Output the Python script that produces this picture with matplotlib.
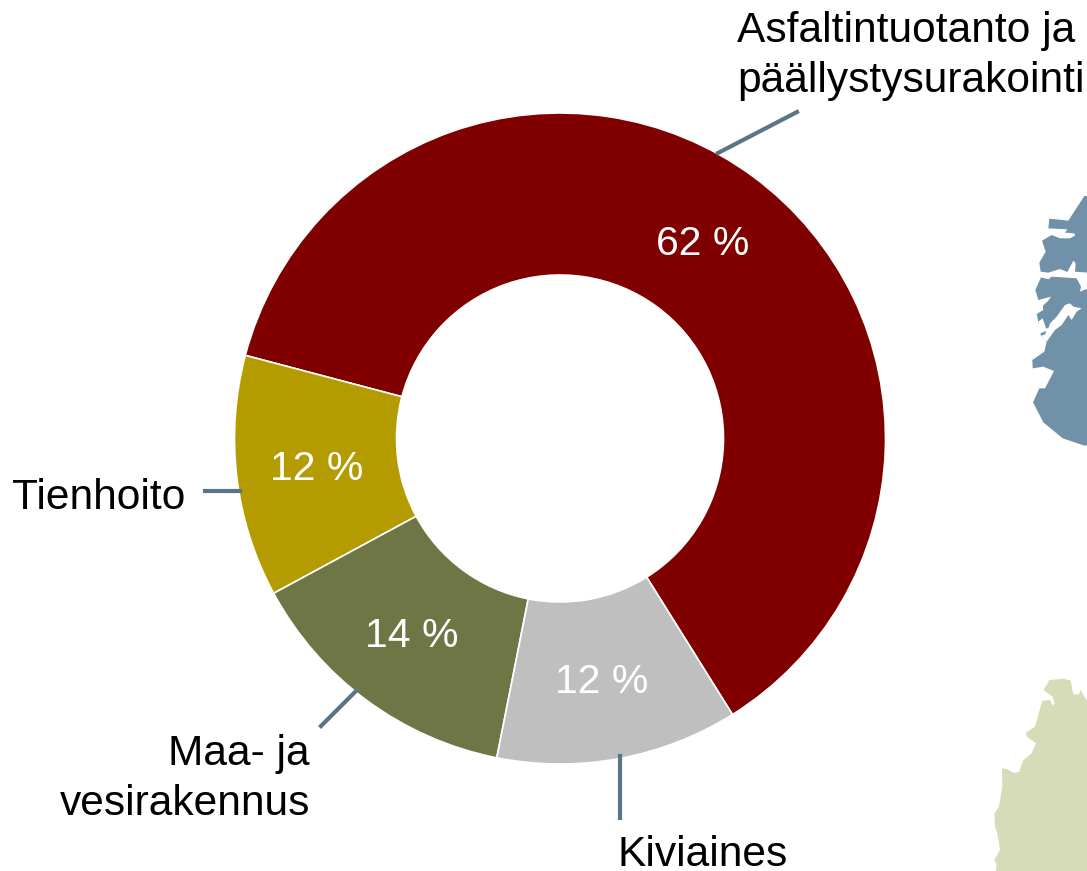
import matplotlib
matplotlib.use('Agg')
import matplotlib.pyplot as plt

W, H = 1087, 871

categories = ['Asfaltintuotanto ja\npäällystysurakointi', 'Tienhoito', 'Maa- ja\nvesirakennus', 'Kiviaines']
shares = [62, 12, 14, 12]
colors = ['#800000', '#B39B00', '#6E7645', '#BFBFBF']
line_color = '#5A7585'

plt.rcParams['font.family'] = ['Liberation Sans', 'DejaVu Sans']

fig = plt.figure(figsize=(W / 100, H / 100), dpi=100)
ax = fig.add_axes([0, 0, 1, 1])


def fy(y):
    # picture pixels count from the top, the axes from the bottom
    return H - y


def zoomed(points, y0):
    return [(980 + x / 3, fy(y0 + y / 3)) for x, y in points]


# Map pieces at the right edge
blue = [(313, 78), (265, 152), (208, 146), (205, 175), (186, 212), (197, 245), (178, 278), (182, 305),
        (183, 322), (166, 360), (175, 390), (190, 410), (170, 432), (175, 455), (180, 495), (200, 515),
        (193, 545), (157, 570), (158, 595), (190, 590), (222, 603), (195, 655), (178, 655), (159, 697),
        (190, 757), (248, 805), (313, 827), (325, 825), (325, 78)]
fjords = [
    [(205, 175), (262, 178), (255, 188), (283, 190), (285, 197), (270, 205), (240, 205), (215, 195),
     (186, 212), (150, 212), (150, 175)],
    [(150, 310), (182, 305), (205, 308), (240, 297), (262, 306), (280, 272), (287, 280), (285, 305),
     (325, 308), (325, 355), (300, 365), (303, 350), (290, 325), (215, 320), (205, 328), (183, 322),
     (150, 322)],
    [(175, 390), (213, 380), (205, 392), (188, 408), (190, 420), (170, 432), (150, 420)],
    [(198, 475), (205, 475), (210, 460), (230, 440), (255, 405), (270, 400), (280, 410), (305, 415),
     (290, 425), (275, 450), (265, 435), (245, 465), (225, 480), (200, 515), (175, 490), (175, 455),
     (188, 445)],
]
islet = [(181, 490), (198, 483), (196, 493), (184, 497)]
green = [(208, 360), (250, 356), (272, 362), (280, 403), (297, 403), (302, 390), (325, 430), (325, 940),
         (47, 940), (50, 912), (42, 902), (60, 870), (52, 820), (45, 800), (43, 760), (57, 740), (67, 680),
         (66, 625), (80, 627), (100, 638), (117, 636), (130, 600), (155, 580), (168, 550), (140, 530),
         (138, 518), (165, 500), (187, 422), (210, 420), (218, 437), (224, 430), (218, 410), (190, 390),
         (200, 375)]

ax.fill(*zip(*zoomed(blue, 170)), color='#7091A8', lw=0)
for f in fjords:
    ax.fill(*zip(*zoomed(f, 170)), color='white', lw=0)
ax.fill(*zip(*zoomed(islet, 170)), color='#7091A8', lw=0)
ax.fill(*zip(*zoomed(green, 560)), color='#D6DCB8', lw=0)

# Donut
ax.pie(shares, colors=colors, startangle=-58, center=(560, fy(438.5)), radius=325.5,
       wedgeprops=dict(width=325.5 - 163.5, edgecolor='white', linewidth=1.2))

ax.set_xlim(0, W)
ax.set_ylim(0, H)
ax.set_aspect('auto')
ax.axis('off')

# Values inside the ring
pct_x = [703, 317, 412, 602]
pct_y = [244, 469, 636, 682]
for v, x, y in zip(shares, pct_x, pct_y):
    ax.text(x, fy(y), f'{v} %', color='white', fontsize=29.5, ha='center', va='center')

# Leader lines
ax.plot([718, 797], [fy(153), fy(112)], color=line_color, lw=3)
ax.plot([205, 240], [fy(491), fy(491)], color=line_color, lw=3)
ax.plot([321, 356], [fy(726), fy(691)], color=line_color, lw=3)
ax.plot([620, 620], [fy(756), fy(818)], color=line_color, lw=3)

# Category labels
ax.text(737, fy(56), categories[0], fontsize=30.6, ha='left', va='center', linespacing=1.32)
ax.text(185, fy(498), categories[1], fontsize=30.6, ha='right', va='center')
ax.text(310, fy(779), categories[2], fontsize=30.6, ha='right', va='center', multialignment='right', linespacing=1.32)
ax.text(703, fy(855), categories[3], fontsize=30.6, ha='center', va='center')

fig.savefig('out.png', dpi=100)
